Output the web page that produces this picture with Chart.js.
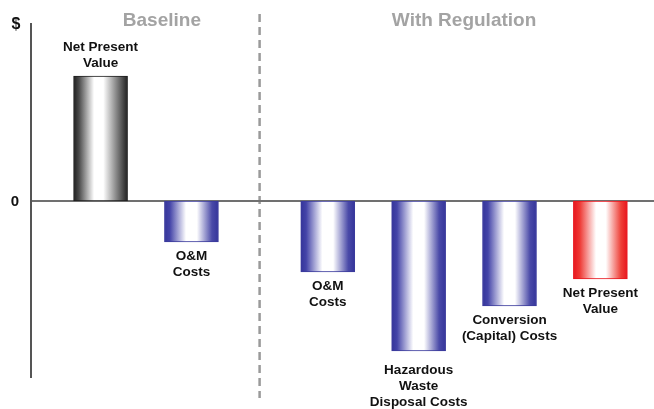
<!DOCTYPE html>
<html>
<head>
<meta charset="utf-8">
<script src="https://cdn.jsdelivr.net/npm/chart.js@4/dist/chart.umd.min.js"></script>
<style>
  html, body { margin: 0; padding: 0; background: #fff; }
  #wrap { width: 654px; height: 409px; }
</style>
</head>
<body>
<div id="wrap"><canvas id="myChart"></canvas></div>
<script>
// slots along the x axis; empty strings/nulls leave gaps between groups
var categories = [
  ["Net Present", "Value"], "", ["O&M", "Costs"], "", "",
  ["O&M", "Costs"], "", ["Hazardous", "Waste", "Disposal Costs"], "",
  ["Conversion", "(Capital) Costs"], "", ["Net Present", "Value"]
];
var values = [125, null, -41, null, null, -71, null, -150, null, -105, null, -78];
var sections = ["Baseline", "With Regulation"];
var axisLabels = ["$", "0"];

var FONT = "'Liberation Sans', Arial, sans-serif";

// bar tone: positive value = black, negative NPV = red, costs = blue
function toneFor(i) {
  var lab = categories[i];
  var name = Array.isArray(lab) ? lab.join(" ") : lab;
  if (values[i] > 0) return "black";
  if (name.indexOf("Net Present") === 0) return "red";
  return "blue";
}

var tones = {
  black: { edge: "#1e1e1e", stops: [[0, "#1e1e1e"], [0.1, "#4a4a4a"], [0.38, "#ffffff"], [0.55, "#ffffff"], [0.85, "#6a6a6a"], [1, "#202020"]] },
  blue: { edge: "#3a3a9c", stops: [[0, "#34349a"], [0.1, "#4444a8"], [0.4, "#ffffff"], [0.6, "#ffffff"], [0.88, "#4a4aa8"], [1, "#34349a"]] },
  red: { edge: "#e8141c", stops: [[0, "#e8141c"], [0.12, "#ee3a35"], [0.42, "#ffffff"], [0.6, "#ffffff"], [0.88, "#ee4038"], [1, "#e8141c"]] }
};

var BAR_W = 54;

var points = [];
values.forEach(function (v, i) {
  if (v !== null) points.push({ x: i, y: v, idx: i });
});

function barFill(c) {
  var chart = c.chart;
  var p = c.raw;
  if (!p || !chart.chartArea) return "#888";
  var t = tones[toneFor(p.idx)];
  var cx = chart.scales.x.getPixelForValue(p.x);
  var g = chart.ctx.createLinearGradient(cx - BAR_W / 2, 0, cx + BAR_W / 2, 0);
  t.stops.forEach(function (s) { g.addColorStop(s[0], s[1]); });
  return g;
}

// axes, zero line, divider and all text drawn by hand
var decorPlugin = {
  id: "decor",
  beforeDatasetsDraw: function (chart) {
    var ctx = chart.ctx;
    var xs = chart.scales.x, ys = chart.scales.y;
    var area = chart.chartArea;
    var y0 = ys.getPixelForValue(0);
    ctx.save();

    // dashed divider between baseline and regulation
    var dx = xs.getPixelForValue(3.5);
    ctx.strokeStyle = "#9a9a9a";
    ctx.lineWidth = 2.5;
    ctx.setLineDash([8, 5]);
    ctx.beginPath();
    ctx.moveTo(dx, 14);
    ctx.lineTo(dx, 398);
    ctx.stroke();
    ctx.setLineDash([]);

    // zero line
    ctx.strokeStyle = "#707070";
    ctx.lineWidth = 2;
    ctx.beginPath();
    ctx.moveTo(area.left, y0);
    ctx.lineTo(area.right, y0);
    ctx.stroke();

    // y axis
    ctx.strokeStyle = "#555";
    ctx.beginPath();
    ctx.moveTo(area.left, area.top);
    ctx.lineTo(area.left, area.bottom);
    ctx.stroke();

    // section titles
    ctx.fillStyle = "#a3a3a3";
    ctx.font = "bold 19px " + FONT;
    ctx.textAlign = "center";
    ctx.textBaseline = "middle";
    ctx.fillText(sections[0], xs.getPixelForValue(1.35), 21);
    ctx.fillText(sections[1], xs.getPixelForValue(8), 21);

    // axis marks
    ctx.fillStyle = "#111";
    ctx.font = "bold 16px " + FONT;
    ctx.fillText(axisLabels[0], 16, 25);
    ctx.font = "bold 15px " + FONT;
    ctx.fillText(axisLabels[1], 15, y0 + 1);
    ctx.restore();
  },
  afterDatasetsDraw: function (chart) {
    var ctx = chart.ctx;
    var meta = chart.getDatasetMeta(0);
    ctx.save();
    ctx.fillStyle = "#111";
    ctx.font = "bold 13.5px " + FONT;
    ctx.textAlign = "center";
    ctx.textBaseline = "middle";
    meta.data.forEach(function (bar, k) {
      var p = points[k];
      var lines = categories[p.idx];
      if (!Array.isArray(lines)) lines = [lines];
      var lh = 16;
      if (p.y > 0) {
        var start = bar.y - 13 - (lines.length - 1) * lh;
        lines.forEach(function (l, j) { ctx.fillText(l, bar.x, start + j * lh); });
      } else {
        var gap = lines.length > 2 ? 19 : 14;
        lines.forEach(function (l, j) { ctx.fillText(l, bar.x, bar.y + gap + j * lh); });
      }
    });
    ctx.restore();
  }
};

new Chart(document.getElementById("myChart"), {
  type: "bar",
  data: {
    datasets: [{
      data: points,
      backgroundColor: barFill,
      borderColor: function (c) { return c.raw ? tones[toneFor(c.raw.idx)].edge : "#333"; },
      borderWidth: 1,
      borderSkipped: false,
      barThickness: BAR_W
    }]
  },
  options: {
    responsive: true,
    maintainAspectRatio: false,
    animation: false,
    layout: { padding: { left: 31, right: 0, top: 23, bottom: 31 } },
    plugins: { legend: { display: false }, tooltip: { enabled: false } },
    scales: {
      x: { type: "linear", min: -1.531, max: 12.18, offset: false, display: false },
      y: { min: -177, max: 178, display: false }
    }
  },
  plugins: [decorPlugin]
});
</script>
</body>
</html>
